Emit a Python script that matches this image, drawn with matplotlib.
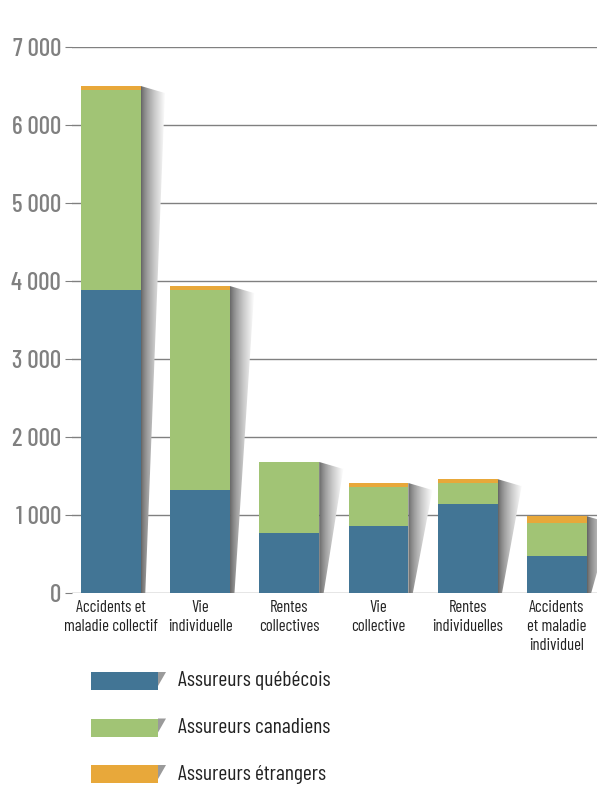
import numpy as np
import matplotlib; matplotlib.use("Agg"); import matplotlib.pyplot as plt
from matplotlib.patches import Rectangle, Polygon
from matplotlib import font_manager as fm

cats = ["Accidents et\nmaladie collectif", "Vie\nindividuelle", "Rentes\ncollectives",
        "Vie\ncollective", "Rentes\nindividuelles", "Accidents\net maladie\nindividuel"]
quebecois = [3885, 1320, 770, 860, 1145, 475]
canadiens = [2565, 2565, 910, 500, 260, 425]
etrangers = [50, 50, 0, 50, 55, 85]
series = ["Assureurs québécois", "Assureurs canadiens", "Assureurs étrangers"]
colors = ["#427595", "#a1c475", "#e8a83a"]
yticks = [0, 1000, 2000, 3000, 4000, 5000, 6000, 7000]

names = {f.name for f in fm.fontManager.ttflist}
cands = ["Barlow Condensed", "Roboto Condensed", "Fira Sans Condensed", "Archivo Narrow",
         "Saira Condensed", "Oswald", "Liberation Sans Narrow"]
fam = [c for c in cands if c in names][:1] or ["DejaVu Sans"]
plt.rcParams['font.family'] = fam + ["DejaVu Sans"]

W, H = 597, 786
fig = plt.figure(figsize=(W/100, H/100), dpi=100)
ax = fig.add_axes([72/W, 1-593/H, 1-72/W, (593-47)/H])
x = np.arange(len(cats))
bw = 0.67
ax.set_xlim(-0.437, 5.45); ax.set_ylim(0, 7000)

for yv in yticks:
    ax.axhline(yv, color="#808080", lw=1, zorder=0)

# soft shadows to the right of each bar
gx = np.linspace(0, 1, 64)
grad = (0.38 + 0.62 * gx**0.7).reshape(1, -1)
tops = np.array(quebecois) + np.array(canadiens) + np.array(etrangers)
for xi, t in zip(x, tops):
    r = xi + bw/2
    poly = Polygon([(r, t), (r+0.27, t-90), (r+0.05, 0), (r, 0)], closed=True,
                   transform=ax.transData, facecolor="none", edgecolor="none")
    ax.add_patch(poly)
    im = ax.imshow(grad, cmap="gray", vmin=0, vmax=1, aspect="auto",
                   extent=(r, r+0.27, 0, t), zorder=1, interpolation="bilinear")
    im.set_clip_path(poly)

bottom = np.zeros(len(cats))
for vals, c in zip([quebecois, canadiens, etrangers], colors):
    ax.bar(x, vals, bw, bottom=bottom, color=c, zorder=2, linewidth=0)
    bottom += np.array(vals)

for s in ax.spines.values():
    s.set_visible(False)
ax.set_yticks(yticks)
ax.set_yticklabels([f"{v:,}".replace(",", " ") for v in yticks], fontsize=18,
                   color="#808080", fontweight="medium")
ax.tick_params(axis="y", length=5, color="#808080", pad=3)
ax.set_xticks(x)
ax.set_xticklabels(cats, fontsize=12, linespacing=1.35, va="top", color="#222222")
ax.tick_params(axis="x", length=0, pad=5)

# legend
for i, (lab, c) in enumerate(zip(series, colors)):
    yc = 681 + i*46.5
    fig.add_artist(Rectangle((91/W, 1-(yc+9)/H), 67/W, 18/H, transform=fig.transFigure,
                             facecolor=c, edgecolor="none"))
    fig.add_artist(Polygon([(158/W, 1-(yc-9)/H), (166/W, 1-(yc-9)/H), (158/W, 1-(yc+5)/H)],
                           transform=fig.transFigure, facecolor="#9a9a9a", edgecolor="none"))
    fig.text(178/W, 1-yc/H, lab, fontsize=15.5, va="center", ha="left", color="#222222")

fig.savefig("out.png", dpi=100)
